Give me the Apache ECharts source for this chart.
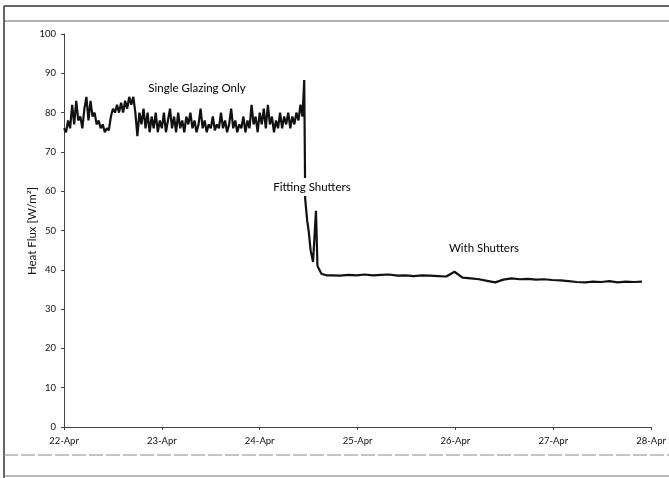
<!DOCTYPE html>
<html>
<head>
<meta charset="utf-8">
<script src="https://cdn.jsdelivr.net/npm/echarts@6/dist/echarts.min.js"></script>
<style>
  html, body { margin: 0; padding: 0; background: #fff; }
  #chart { width: 669px; height: 478px; }
</style>
</head>
<body>
<div id="chart"></div>
<script>
// tick labels on x axis (one per day, day 0 = 22-Apr)
var dayLabels = ['22-Apr', '23-Apr', '24-Apr', '25-Apr', '26-Apr', '27-Apr', '28-Apr'];

// single glazing phase, half-hourly readings from day 0
var glazingStep = 1 / 48;
var glazingValues = [
  76, 75, 78, 76, 82, 77, 83, 78, 79, 76, 81, 84, 78, 83, 79, 80, 77, 78, 76, 77,
  75, 76, 75.5, 79, 81, 80, 82, 80, 82.5, 80, 83, 81, 84, 82, 84, 80, 74, 80, 77, 81,
  76, 80, 75, 79, 76, 80, 75, 78, 76, 80, 75, 78, 81, 76, 79, 75, 80, 76, 78, 75,
  79, 77, 80, 76, 78, 75, 77, 81, 76, 78, 75, 77, 76, 79, 75.5, 77, 76, 80, 76, 78,
  75, 77, 81, 76, 78, 75, 77, 76, 79, 75, 78, 76, 82, 77, 79, 75, 80, 77, 81, 76,
  82, 77, 79, 75, 78, 76, 80, 76, 79, 77, 80, 76, 79, 77, 80, 78, 82, 79
];

// fitting shutters: [day, value]
var fittingPoints = [
  [2.455, 88.3], [2.465, 58], [2.485, 52.5], [2.50, 50], [2.52, 45],
  [2.545, 42], [2.565, 41.5], [2.575, 55], [2.59, 41], [2.61, 40],
  [2.63, 39], [2.68, 38.6]
];

// with shutters, two-hourly readings
var shutterStart = 2.74;
var shutterStep = 1 / 12;
var shutterValues = [
  38.6, 38.5, 38.7, 38.6, 38.8, 38.6, 38.7, 38.8, 38.5, 38.6,
  38.4, 38.6, 38.5, 38.4, 38.3, 39.5, 38.0, 37.8, 37.6, 37.2,
  36.8, 37.5, 37.8, 37.6, 37.7, 37.5, 37.6, 37.4, 37.3, 37.1,
  36.9, 36.8, 37.0, 36.9, 37.1, 36.8, 37.0, 36.9, 37.0
];

var notes = [
  { text: 'Single Glazing Only', x: 197, y: 88 },
  { text: 'Fitting Shutters', x: 312, y: 187 },
  { text: 'With Shutters', x: 484, y: 248 }
];

var seriesData = [];
glazingValues.forEach(function (v, i) { seriesData.push([i * glazingStep, v]); });
fittingPoints.forEach(function (p) { seriesData.push(p); });
shutterValues.forEach(function (v, i) { seriesData.push([shutterStart + i * shutterStep, v]); });

var myChart = echarts.init(document.getElementById('chart'));

var font = 'Lato, "Open Sans", sans-serif';

// frame lines of the scanned page
var frame = [
  { type: 'line', shape: { x1: 4, y1: 6, x2: 669, y2: 6 }, style: { stroke: '#333', lineWidth: 1.5 } },
  { type: 'line', shape: { x1: 4, y1: 21, x2: 669, y2: 21 }, style: { stroke: '#666', lineWidth: 1 } },
  { type: 'line', shape: { x1: 4, y1: 6, x2: 4, y2: 478 }, style: { stroke: '#333', lineWidth: 1.5 } },
  { type: 'line', shape: { x1: 4, y1: 455, x2: 669, y2: 455 }, style: { stroke: '#888', lineWidth: 1, lineDash: [14, 3] } },
  { type: 'line', shape: { x1: 4, y1: 476, x2: 669, y2: 476 }, style: { stroke: '#777', lineWidth: 1 } }
];

// y axis title
var yTitle = {
  type: 'text',
  x: 32, y: 231,
  rotation: Math.PI / 2,
  style: {
    text: 'Heat Flux [W/m²]', fill: '#111', fontSize: 11.5, fontFamily: font,
    align: 'center', verticalAlign: 'middle'
  }
};

option = {
  animation: false,
  backgroundColor: '#fff',
  grid: { left: 64, right: 9, top: 34, bottom: 51 },
  xAxis: {
    type: 'value',
    min: 0,
    max: 6,
    interval: 1,
    axisLine: { lineStyle: { color: '#444', width: 1 } },
    axisTick: { show: true, length: 3, lineStyle: { color: '#444' } },
    splitLine: { show: false },
    axisLabel: {
      color: '#111',
      fontSize: 9.5,
      fontFamily: font,
      margin: 9,
      formatter: function (v) { return dayLabels[Math.round(v)]; }
    }
  },
  yAxis: {
    type: 'value',
    min: 0,
    max: 100,
    interval: 10,
    axisLine: { show: true, lineStyle: { color: '#444', width: 1 } },
    axisTick: { show: true, length: 3, lineStyle: { color: '#444' } },
    splitLine: { show: false },
    axisLabel: { color: '#111', fontSize: 9.5, fontFamily: font, margin: 8 }
  },
  series: [{
    type: 'line',
    data: seriesData,
    showSymbol: false,
    lineStyle: { color: '#111', width: 2.2 }
  }],
  graphic: notes.map(function (n) {
    return {
      type: 'text',
      x: n.x, y: n.y,
      z: 100,
      style: {
        text: n.text, fill: '#000', fontSize: 11.5, fontFamily: font,
        align: 'center', verticalAlign: 'middle',
        backgroundColor: '#fff', padding: [3, 2]
      }
    };
  }).concat(frame).concat([yTitle])
};

myChart.setOption(option);
window.addEventListener('resize', function () {
  myChart.resize();
});
</script>
</body>
</html>
